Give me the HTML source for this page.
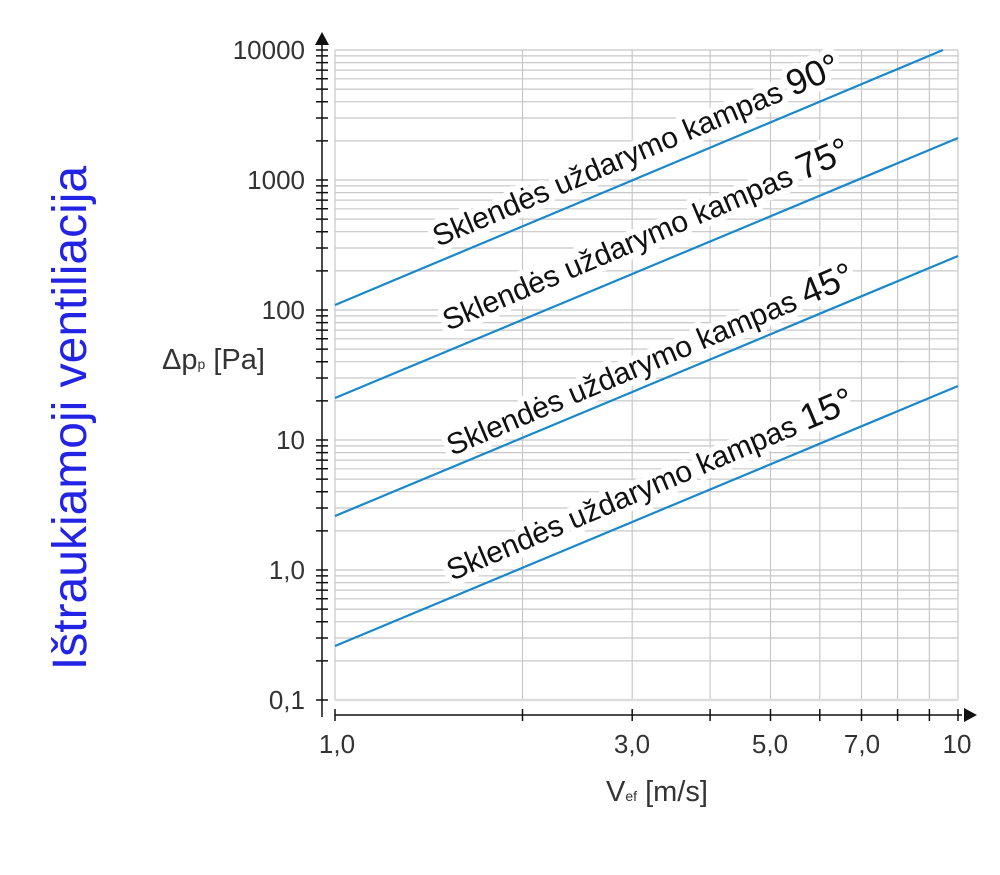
<!DOCTYPE html>
<html><head><meta charset="utf-8"><style>
body{margin:0;background:#fff}
svg text{font-family:"Liberation Sans",sans-serif}
</style></head><body>
<svg width="1000" height="870" xmlns="http://www.w3.org/2000/svg">
<rect width="1000" height="870" fill="#fff"/>
<g stroke="#c8c8c8" stroke-width="1.2" fill="none">
<path d="M335 660.9H958M335 638H958M335 621.7H958M335 609.1H958M335 598.8H958M335 590.1H958M335 582.6H958M335 575.9H958
M335 530.9H958M335 508H958M335 491.7H958M335 479.1H958M335 468.8H958M335 460.1H958M335 452.6H958M335 445.9H958
M335 400.9H958M335 378H958M335 361.7H958M335 349.1H958M335 338.8H958M335 330.1H958M335 322.6H958M335 315.9H958
M335 270.9H958M335 248H958M335 231.7H958M335 219.1H958M335 208.8H958M335 200.1H958M335 192.6H958M335 185.9H958
M335 140.9H958M335 118H958M335 101.7H958M335 89.1H958M335 78.8H958M335 70.1H958M335 62.6H958M335 55.9H958
M335 570H958M335 440H958M335 310H958M335 180H958M335 50H958
M522.5 50V700M632.2 50V700M710.1 50V700M770.5 50V700M819.8 50V700M861.5 50V700M897.6 50V700M929.4 50V700M958 50V700M335 50V700"/>
<path d="M335 700H958" stroke="#ddd" stroke-width="2.5"/>
</g>
<g font-size="30" fill="#111" stroke="#fff" stroke-width="12" paint-order="stroke" stroke-linejoin="round">
<text transform="translate(438,247) rotate(-23)">Sklendės uždarymo kampas <tspan font-size="36">90°</tspan></text>
<text transform="translate(448,331) rotate(-23)">Sklendės uždarymo kampas <tspan font-size="36">75°</tspan></text>
<text transform="translate(452,456) rotate(-23)">Sklendės uždarymo kampas <tspan font-size="36">45°</tspan></text>
<text transform="translate(452,581) rotate(-23)">Sklendės uždarymo kampas <tspan font-size="36">15°</tspan></text>
</g>
<g stroke="#1a88c9" stroke-width="2.2" fill="none">
<path d="M335 305L943 50"/>
<path d="M335 398L958 138"/>
<path d="M335 516L958 256"/>
<path d="M335 646L958 386"/>
</g>
<g stroke="#111" stroke-width="1.5" fill="none">
<path d="M322 717V42"/>
<path d="M316 700h12M316 660.9h12M316 638h12M316 621.7h12M316 609.1h12M316 598.8h12M316 590.1h12M316 582.6h12M316 575.9h12
M316 570h12M316 530.9h12M316 508h12M316 491.7h12M316 479.1h12M316 468.8h12M316 460.1h12M316 452.6h12M316 445.9h12
M316 440h12M316 400.9h12M316 378h12M316 361.7h12M316 349.1h12M316 338.8h12M316 330.1h12M316 322.6h12M316 315.9h12
M316 310h12M316 270.9h12M316 248h12M316 231.7h12M316 219.1h12M316 208.8h12M316 200.1h12M316 192.6h12M316 185.9h12
M316 180h12M316 140.9h12M316 118h12M316 101.7h12M316 89.1h12M316 78.8h12M316 70.1h12M316 62.6h12M316 55.9h12M316 50h12"/>
<path d="M335 715H962"/>
<path d="M335 709v12M522.5 709v12M632.2 709v12M710.1 709v12M770.5 709v12M819.8 709v12M861.5 709v12M897.6 709v12M929.4 709v12M958 709v12"/>
</g>
<path d="M322 32L315 45H329Z" fill="#111"/>
<path d="M977 715L964 708V722Z" fill="#111"/>
<g font-size="26" fill="#333" text-anchor="end">
<text x="305" y="59">10000</text>
<text x="305" y="189">1000</text>
<text x="305" y="319">100</text>
<text x="305" y="449">10</text>
<text x="305" y="579">1,0</text>
<text x="305" y="709">0,1</text>
</g>
<g font-size="26" fill="#333" text-anchor="middle">
<text x="337" y="753">1,0</text>
<text x="632" y="753">3,0</text>
<text x="770" y="753">5,0</text>
<text x="862" y="753">7,0</text>
<text x="957" y="753">10</text>
</g>
<text x="162" y="369" font-size="29" fill="#333">Δp<tspan font-size="14">p</tspan> [Pa]</text>
<text x="606" y="801" font-size="29" fill="#333">V<tspan font-size="14">ef</tspan> [m/s]</text>
<text transform="translate(86,418) rotate(-90)" text-anchor="middle" font-size="48" fill="#2323e6">Ištraukiamoji ventiliacija</text>
</svg>
</body></html>
